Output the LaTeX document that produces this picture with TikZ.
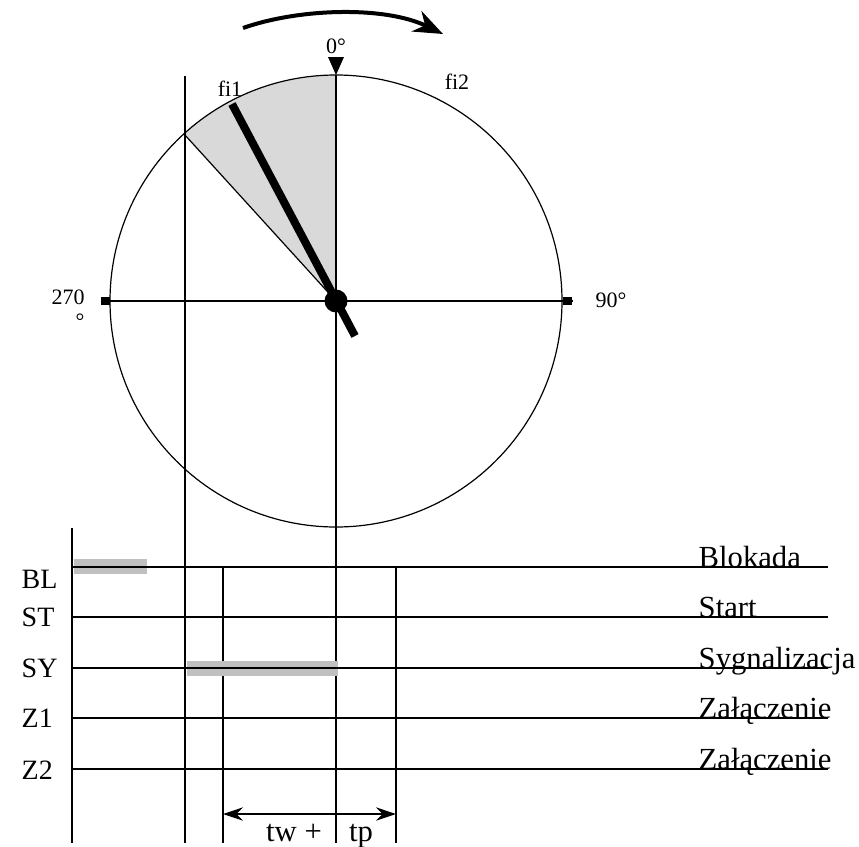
\documentclass[tikz,border=0pt]{standalone}
\usepackage{fontspec}
\setmainfont{Liberation Serif}
\usetikzlibrary{arrows.meta}
\definecolor{sectorgray}{RGB}{217, 217, 217}
\definecolor{bargray}{RGB}{192, 192, 192}

\begin{document}
\begin{tikzpicture}[x=0.75pt, y=-0.75pt,
        % Line styles used in the dial and in the chart
        thinline/.style={line width=0.9pt, black},
        needle/.style={line width=6pt, black},
        turn/.style={line width=3pt, -{Stealth[length=22pt, width=17pt]}},
        span/.style={thinline, {Stealth[length=15pt, width=10pt]}-{Stealth[length=15pt, width=10pt]}},
        % Text styles
        small/.style={font=\fontsize{16.5}{18}\selectfont},
        mid/.style={font=\fontsize{21}{24}\selectfont},
        big/.style={font=\fontsize{23}{26}\selectfont}
    ]
    \useasboundingbox (0,0) rectangle (859,846);
    \coordinate (c) at (336,301);

    % Dial with the shaded sector
    \fill[sectorgray] (c) -- ++(227.7:226) arc[start angle=227.7, end angle=270, radius=226] -- cycle;
    \draw[thinline] (c) -- ++(227.7:226);
    \draw[thinline] (c) circle (226);
    \draw[thinline] (101,301) -- (573,301);
    \fill (101,297) rectangle (110,305);
    \fill (563,297) rectangle (572,305);
    \fill (328,57) -- (344,57) -- (336,75) -- cycle;

    % Direction of rotation
    \draw[turn] (243,28) .. controls (300,8) and (385,6) .. (443,34);

    % Dial labels
    \node[small] (zero) at (336,46) {0°};
    \node[small] (fione) at (230,89) {fi1};
    \node[small] (fitwo) at (457,82) {fi2};
    \node[small, align=right] (west) at (68,309) {270\\°};
    \node[small] (east) at (611,300) {90°};

    % Pointer
    \draw[needle] (232,104) -- (355,336);
    \fill (c) circle (11.5);

    % Time lines
    \draw[thinline] (336,75) -- (336,843);
    \draw[thinline] (185,76) -- (185,843);
    \draw[thinline] (72,528) -- (72,843);
    \draw[thinline] (223,567) -- (223,843);
    \draw[thinline] (396,567) -- (396,843);
    \fill[bargray] (74,559) rectangle (147,574);
    \fill[bargray] (187,661) rectangle (338,676);
    \foreach \y/\b/\s/\l in {567/588/BL/Blokada, 617/626/ST/Start, 668/677/SY/Sygnalizacja,
                             718/727/Z1/Załączenie, 769/779/Z2/Załączenie} {
        \draw[thinline] (72,\y) -- (828,\y);
        \node[mid, anchor=base west] (s-\s) at (17,\b) {\s};
        \node[big, anchor=base west] (l-\s) at (694,\y) {\l};
    }

    % Time span
    \coordinate (tw) at (223,814);
    \coordinate (tp) at (396,814);
    \draw[span] (tw) -- (tp);
    \node[big, anchor=base] (twlabel) at (294,841) {tw +};
    \node[big, anchor=base] (tplabel) at (361,841) {tp};
\end{tikzpicture}
\end{document}
